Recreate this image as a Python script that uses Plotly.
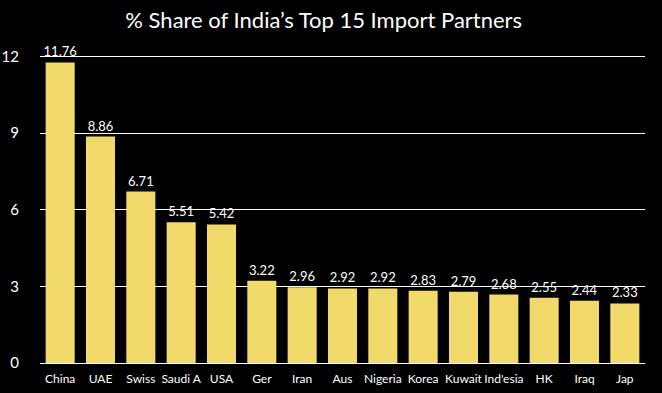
import plotly.graph_objects as go

countries = ["China", "UAE", "Swiss", "Saudi A", "USA", "Ger", "Iran", "Aus",
             "Nigeria", "Korea", "Kuwait", "Ind'esia", "HK", "Iraq", "Jap"]
shares = [11.76, 8.86, 6.71, 5.51, 5.42, 3.22, 2.96, 2.92, 2.92, 2.83, 2.79,
          2.68, 2.55, 2.44, 2.33]
y_ticks = [0, 3, 6, 9, 12]

FONT = "Lato, 'Gill Sans', 'Open Sans', sans-serif"

fig = go.Figure(go.Bar(
    x=countries, y=shares,
    marker=dict(color="#F1DA6A", line=dict(width=0)),
    text=[f"{v:.2f}" for v in shares],
    textposition="outside",
    constraintext="none",
    textfont=dict(color="white", size=13, family=FONT),
    cliponaxis=False,
))

fig.update_layout(
    width=662, height=393,
    paper_bgcolor="black", plot_bgcolor="black",
    margin=dict(l=40, r=17, t=41, b=30, autoexpand=False),
    bargap=0.28,
    showlegend=False,
    title=dict(text="% Share of India’s Top 15 Import Partners",
               x=0.489, xanchor="center", y=0.949, yanchor="middle",
               font=dict(color="white", size=22, family=FONT)),
    font=dict(family=FONT, color="white"),
)
fig.update_xaxes(showgrid=False, tickfont=dict(size=12, color="white"),
                 tickangle=0, automargin=False, ticklabelstandoff=7,
                 ticks="", showline=False)
fig.update_yaxes(range=[0, 12.6], tickvals=y_ticks, showgrid=True,
                 gridcolor="white", gridwidth=1, zeroline=True,
                 zerolinecolor="white", zerolinewidth=1, automargin=False,
                 tickfont=dict(size=15, color="white"), ticks="",
                 ticklabelstandoff=20)

fig.write_html(
    "out.html",
    config={"displayModeBar": False},
    post_script="document.body.style.margin='0';document.body.style.background='black';",
)
